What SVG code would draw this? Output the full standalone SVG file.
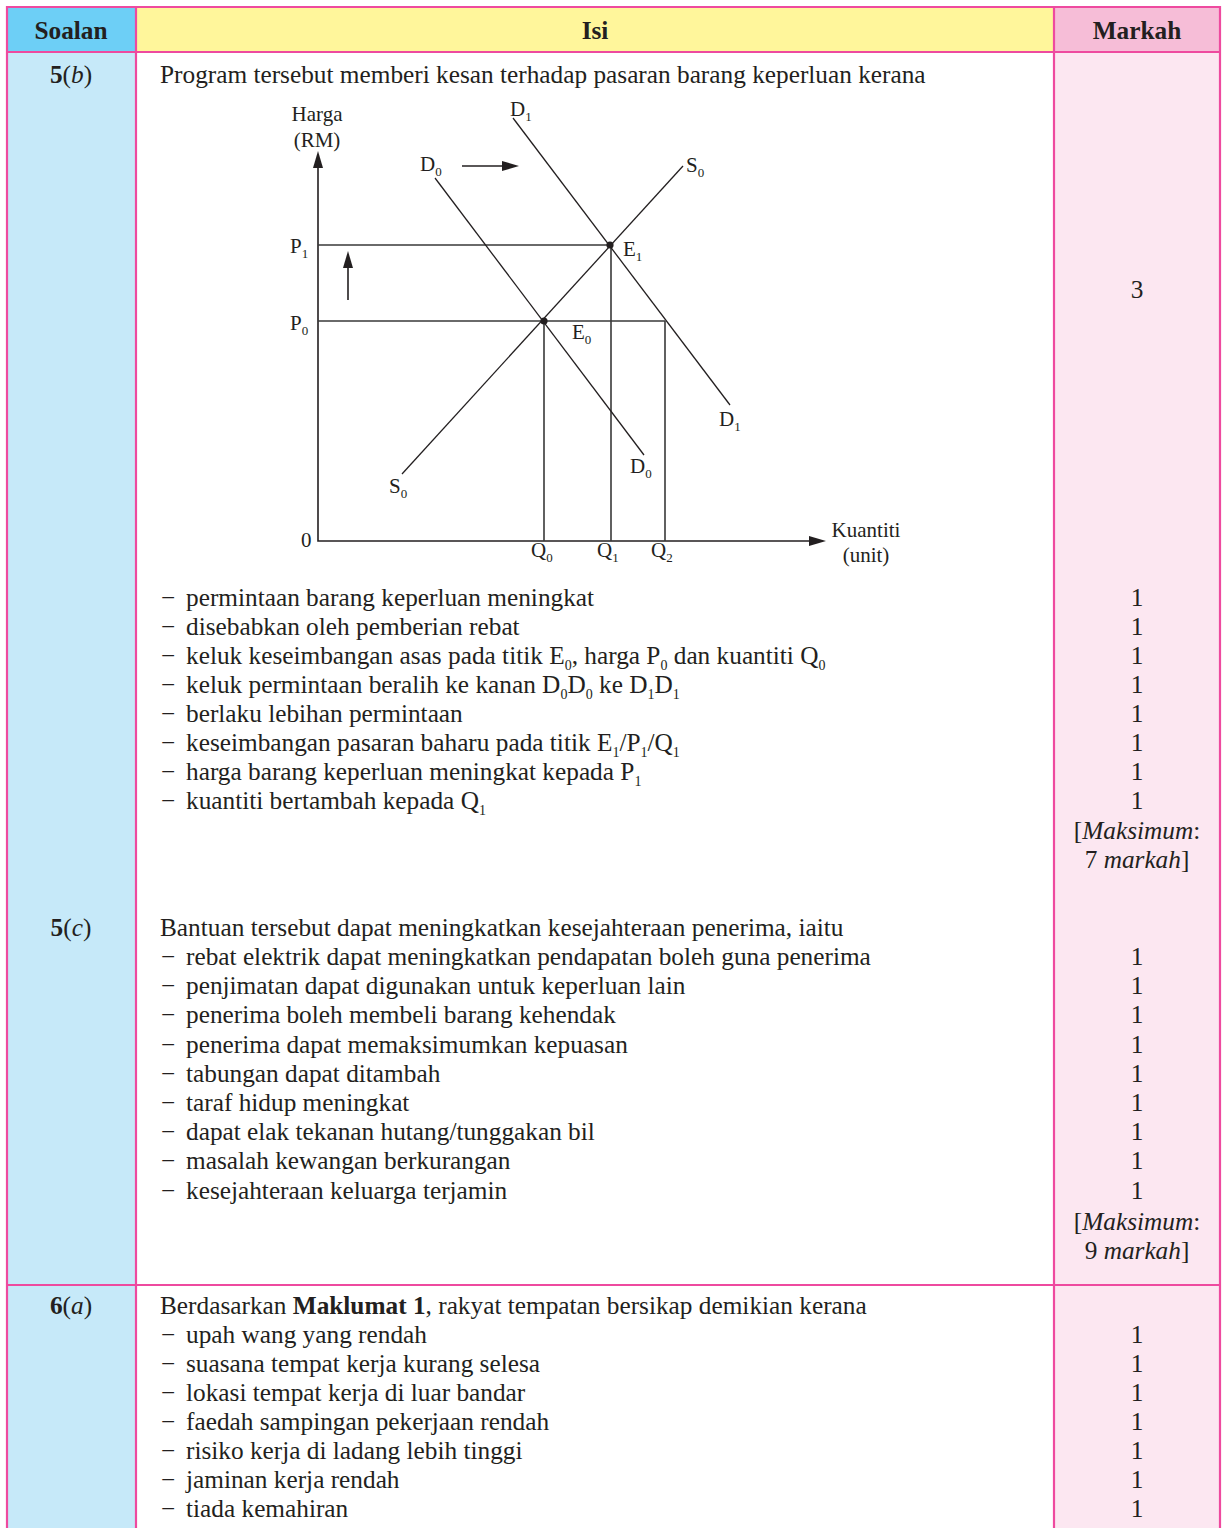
<svg xmlns="http://www.w3.org/2000/svg" width="1224" height="1528" viewBox="0 0 1224 1528">
<style>
text{font-family:"Liberation Serif","Times New Roman",serif;fill:#231F20}
.t{font-size:25.3px}
.h{font-size:25.3px;font-weight:bold}
.c{text-anchor:middle}
.g{font-size:21px}
.s{font-size:13px}
.ss{font-size:14px}
.i{font-style:italic}
.b{font-weight:bold}
.bd{stroke:#EE4A9F;stroke-width:2.2;fill:none}
.ax{stroke:#231F20;stroke-width:1.6;fill:none}
.cv{stroke:#231F20;stroke-width:1.3;fill:none}
.gd{stroke:#3a3a3a;stroke-width:1.6;fill:none}
.ah{fill:#231F20}
</style>
<rect width="1224" height="1528" fill="#ffffff"/>
<g id="backgrounds">
<rect x="7" y="7" width="129" height="1521" fill="#C6E9F9"/>
<rect x="1054" y="7" width="166" height="1521" fill="#FCE7F1"/>
<rect x="7" y="7" width="129" height="45" fill="#6DCFF6"/>
<rect x="136" y="7" width="918" height="45" fill="#FFF69B"/>
<rect x="1054" y="7" width="166" height="45" fill="#F6BDD7"/>
</g>
<g id="table-lines">
<path class="bd" d="M7 1530 V7 H1220 V1530 M136 7 V1530 M1054 7 V1530 M7 52 H1220 M7 1285 H1220"/>
</g>
<g id="header">
<text class="h c" x="71" y="39">Soalan</text>
<text class="h c" x="595" y="39">Isi</text>
<text class="h c" x="1137" y="39">Markah</text>
</g>
<g id="row-5b">
<text class="t c" x="71" y="83"><tspan class="b">5</tspan>(<tspan class="i">b</tspan>)</text>
<text class="t" x="160" y="83">Program tersebut memberi kesan terhadap pasaran barang keperluan kerana</text>
<text class="t c" x="1137" y="298">3</text>
<g id="list-5b">
<text class="t" x="161" y="606">−</text><text class="t" x="186" y="606">permintaan barang keperluan meningkat</text>
<text class="t" x="161" y="635">−</text><text class="t" x="186" y="635">disebabkan oleh pemberian rebat</text>
<text class="t" x="161" y="664">−</text><text class="t" x="186" y="664">keluk keseimbangan asas pada titik E<tspan class="ss" dy="6">0</tspan><tspan dy="-6">, harga P</tspan><tspan class="ss" dy="6">0</tspan><tspan dy="-6"> dan kuantiti Q</tspan><tspan class="ss" dy="6">0</tspan></text>
<text class="t" x="161" y="693">−</text><text class="t" x="186" y="693">keluk permintaan beralih ke kanan D<tspan class="ss" dy="6">0</tspan><tspan dy="-6">D</tspan><tspan class="ss" dy="6">0</tspan><tspan dy="-6"> ke D</tspan><tspan class="ss" dy="6">1</tspan><tspan dy="-6">D</tspan><tspan class="ss" dy="6">1</tspan></text>
<text class="t" x="161" y="722">−</text><text class="t" x="186" y="722">berlaku lebihan permintaan</text>
<text class="t" x="161" y="751">−</text><text class="t" x="186" y="751">keseimbangan pasaran baharu pada titik E<tspan class="ss" dy="6">1</tspan><tspan dy="-6">/P</tspan><tspan class="ss" dy="6">1</tspan><tspan dy="-6">/Q</tspan><tspan class="ss" dy="6">1</tspan></text>
<text class="t" x="161" y="780">−</text><text class="t" x="186" y="780">harga barang keperluan meningkat kepada P<tspan class="ss" dy="6">1</tspan></text>
<text class="t" x="161" y="809">−</text><text class="t" x="186" y="809">kuantiti bertambah kepada Q<tspan class="ss" dy="6">1</tspan></text>
</g>
<g id="marks-5b">
<text class="t c" x="1137" y="606">1</text>
<text class="t c" x="1137" y="635">1</text>
<text class="t c" x="1137" y="664">1</text>
<text class="t c" x="1137" y="693">1</text>
<text class="t c" x="1137" y="722">1</text>
<text class="t c" x="1137" y="751">1</text>
<text class="t c" x="1137" y="780">1</text>
<text class="t c" x="1137" y="809">1</text>
<text class="t c" x="1137" y="839">[<tspan class="i">Maksimum</tspan>:</text>
<text class="t c" x="1137" y="868">7 <tspan class="i">markah</tspan>]</text>
</g>
</g>
<g id="graph">
<g id="axes">
<path class="ax" d="M318 165 V541 H810"/>
<polygon class="ah" points="318,151 313,168 323,168"/>
<polygon class="ah" points="826,541 809,536 809,546"/>
</g>
<g id="connectors">
<path class="gd" d="M318 245 H610 M318 321 H665 M544 321 V541 M611 245 V541 M665 321 V541"/>
<line class="cv" x1="513" y1="118" x2="730" y2="405"/>
<line class="cv" x1="435" y1="178" x2="644" y2="455"/>
<line class="cv" x1="402" y1="474" x2="683" y2="166"/>
<path class="ax" d="M462 166 H503"/>
<polygon class="ah" points="519,166 502,161 502,171"/>
<path class="ax" d="M348 300 V266"/>
<polygon class="ah" points="348,251 343,268 353,268"/>
<circle class="ah" cx="544" cy="321" r="3.6"/>
<circle class="ah" cx="610" cy="245" r="3.6"/>
</g>
<g id="graph-labels">
<text class="g c" x="317" y="121">Harga</text>
<text class="g c" x="317" y="147">(RM)</text>
<text class="g" x="510" y="116">D<tspan class="s" dy="5">1</tspan></text>
<text class="g" x="420" y="171">D<tspan class="s" dy="5">0</tspan></text>
<text class="g" x="686" y="172">S<tspan class="s" dy="5">0</tspan></text>
<text class="g" x="290" y="253">P<tspan class="s" dy="5">1</tspan></text>
<text class="g" x="623" y="256">E<tspan class="s" dy="5">1</tspan></text>
<text class="g" x="290" y="330">P<tspan class="s" dy="5">0</tspan></text>
<text class="g" x="572" y="339">E<tspan class="s" dy="5">0</tspan></text>
<text class="g" x="719" y="426">D<tspan class="s" dy="5">1</tspan></text>
<text class="g" x="630" y="473">D<tspan class="s" dy="5">0</tspan></text>
<text class="g" x="389" y="493">S<tspan class="s" dy="5">0</tspan></text>
<text class="g" x="301" y="547">0</text>
<text class="g" x="531" y="557">Q<tspan class="s" dy="5">0</tspan></text>
<text class="g" x="597" y="557">Q<tspan class="s" dy="5">1</tspan></text>
<text class="g" x="651" y="557">Q<tspan class="s" dy="5">2</tspan></text>
<text class="g c" x="866" y="537">Kuantiti</text>
<text class="g c" x="866" y="562">(unit)</text>
</g>
</g>
<g id="row-5c">
<text class="t c" x="71" y="936"><tspan class="b">5</tspan>(<tspan class="i">c</tspan>)</text>
<text class="t" x="160" y="936">Bantuan tersebut dapat meningkatkan kesejahteraan penerima, iaitu</text>
<g id="list-5c">
<text class="t" x="161" y="965">−</text><text class="t" x="186" y="965">rebat elektrik dapat meningkatkan pendapatan boleh guna penerima</text>
<text class="t" x="161" y="994.2">−</text><text class="t" x="186" y="994.2">penjimatan dapat digunakan untuk keperluan lain</text>
<text class="t" x="161" y="1023.4">−</text><text class="t" x="186" y="1023.4">penerima boleh membeli barang kehendak</text>
<text class="t" x="161" y="1052.6">−</text><text class="t" x="186" y="1052.6">penerima dapat memaksimumkan kepuasan</text>
<text class="t" x="161" y="1081.8">−</text><text class="t" x="186" y="1081.8">tabungan dapat ditambah</text>
<text class="t" x="161" y="1111">−</text><text class="t" x="186" y="1111">taraf hidup meningkat</text>
<text class="t" x="161" y="1140.2">−</text><text class="t" x="186" y="1140.2">dapat elak tekanan hutang/tunggakan bil</text>
<text class="t" x="161" y="1169.4">−</text><text class="t" x="186" y="1169.4">masalah kewangan berkurangan</text>
<text class="t" x="161" y="1198.6">−</text><text class="t" x="186" y="1198.6">kesejahteraan keluarga terjamin</text>
</g>
<g id="marks-5c">
<text class="t c" x="1137" y="965">1</text>
<text class="t c" x="1137" y="994.2">1</text>
<text class="t c" x="1137" y="1023.4">1</text>
<text class="t c" x="1137" y="1052.6">1</text>
<text class="t c" x="1137" y="1081.8">1</text>
<text class="t c" x="1137" y="1111">1</text>
<text class="t c" x="1137" y="1140.2">1</text>
<text class="t c" x="1137" y="1169.4">1</text>
<text class="t c" x="1137" y="1198.6">1</text>
<text class="t c" x="1137" y="1230">[<tspan class="i">Maksimum</tspan>:</text>
<text class="t c" x="1137" y="1259">9 <tspan class="i">markah</tspan>]</text>
</g>
</g>
<g id="row-6a">
<text class="t c" x="71" y="1314"><tspan class="b">6</tspan>(<tspan class="i">a</tspan>)</text>
<text class="t" x="160" y="1314">Berdasarkan <tspan class="b">Maklumat 1</tspan>, rakyat tempatan bersikap demikian kerana</text>
<g id="list-6a">
<text class="t" x="161" y="1343">−</text><text class="t" x="186" y="1343">upah wang yang rendah</text>
<text class="t" x="161" y="1372">−</text><text class="t" x="186" y="1372">suasana tempat kerja kurang selesa</text>
<text class="t" x="161" y="1401">−</text><text class="t" x="186" y="1401">lokasi tempat kerja di luar bandar</text>
<text class="t" x="161" y="1430">−</text><text class="t" x="186" y="1430">faedah sampingan pekerjaan rendah</text>
<text class="t" x="161" y="1459">−</text><text class="t" x="186" y="1459">risiko kerja di ladang lebih tinggi</text>
<text class="t" x="161" y="1488">−</text><text class="t" x="186" y="1488">jaminan kerja rendah</text>
<text class="t" x="161" y="1517">−</text><text class="t" x="186" y="1517">tiada kemahiran</text>
</g>
<g id="marks-6a">
<text class="t c" x="1137" y="1343">1</text>
<text class="t c" x="1137" y="1372">1</text>
<text class="t c" x="1137" y="1401">1</text>
<text class="t c" x="1137" y="1430">1</text>
<text class="t c" x="1137" y="1459">1</text>
<text class="t c" x="1137" y="1488">1</text>
<text class="t c" x="1137" y="1517">1</text>
</g>
</g>
</svg>
